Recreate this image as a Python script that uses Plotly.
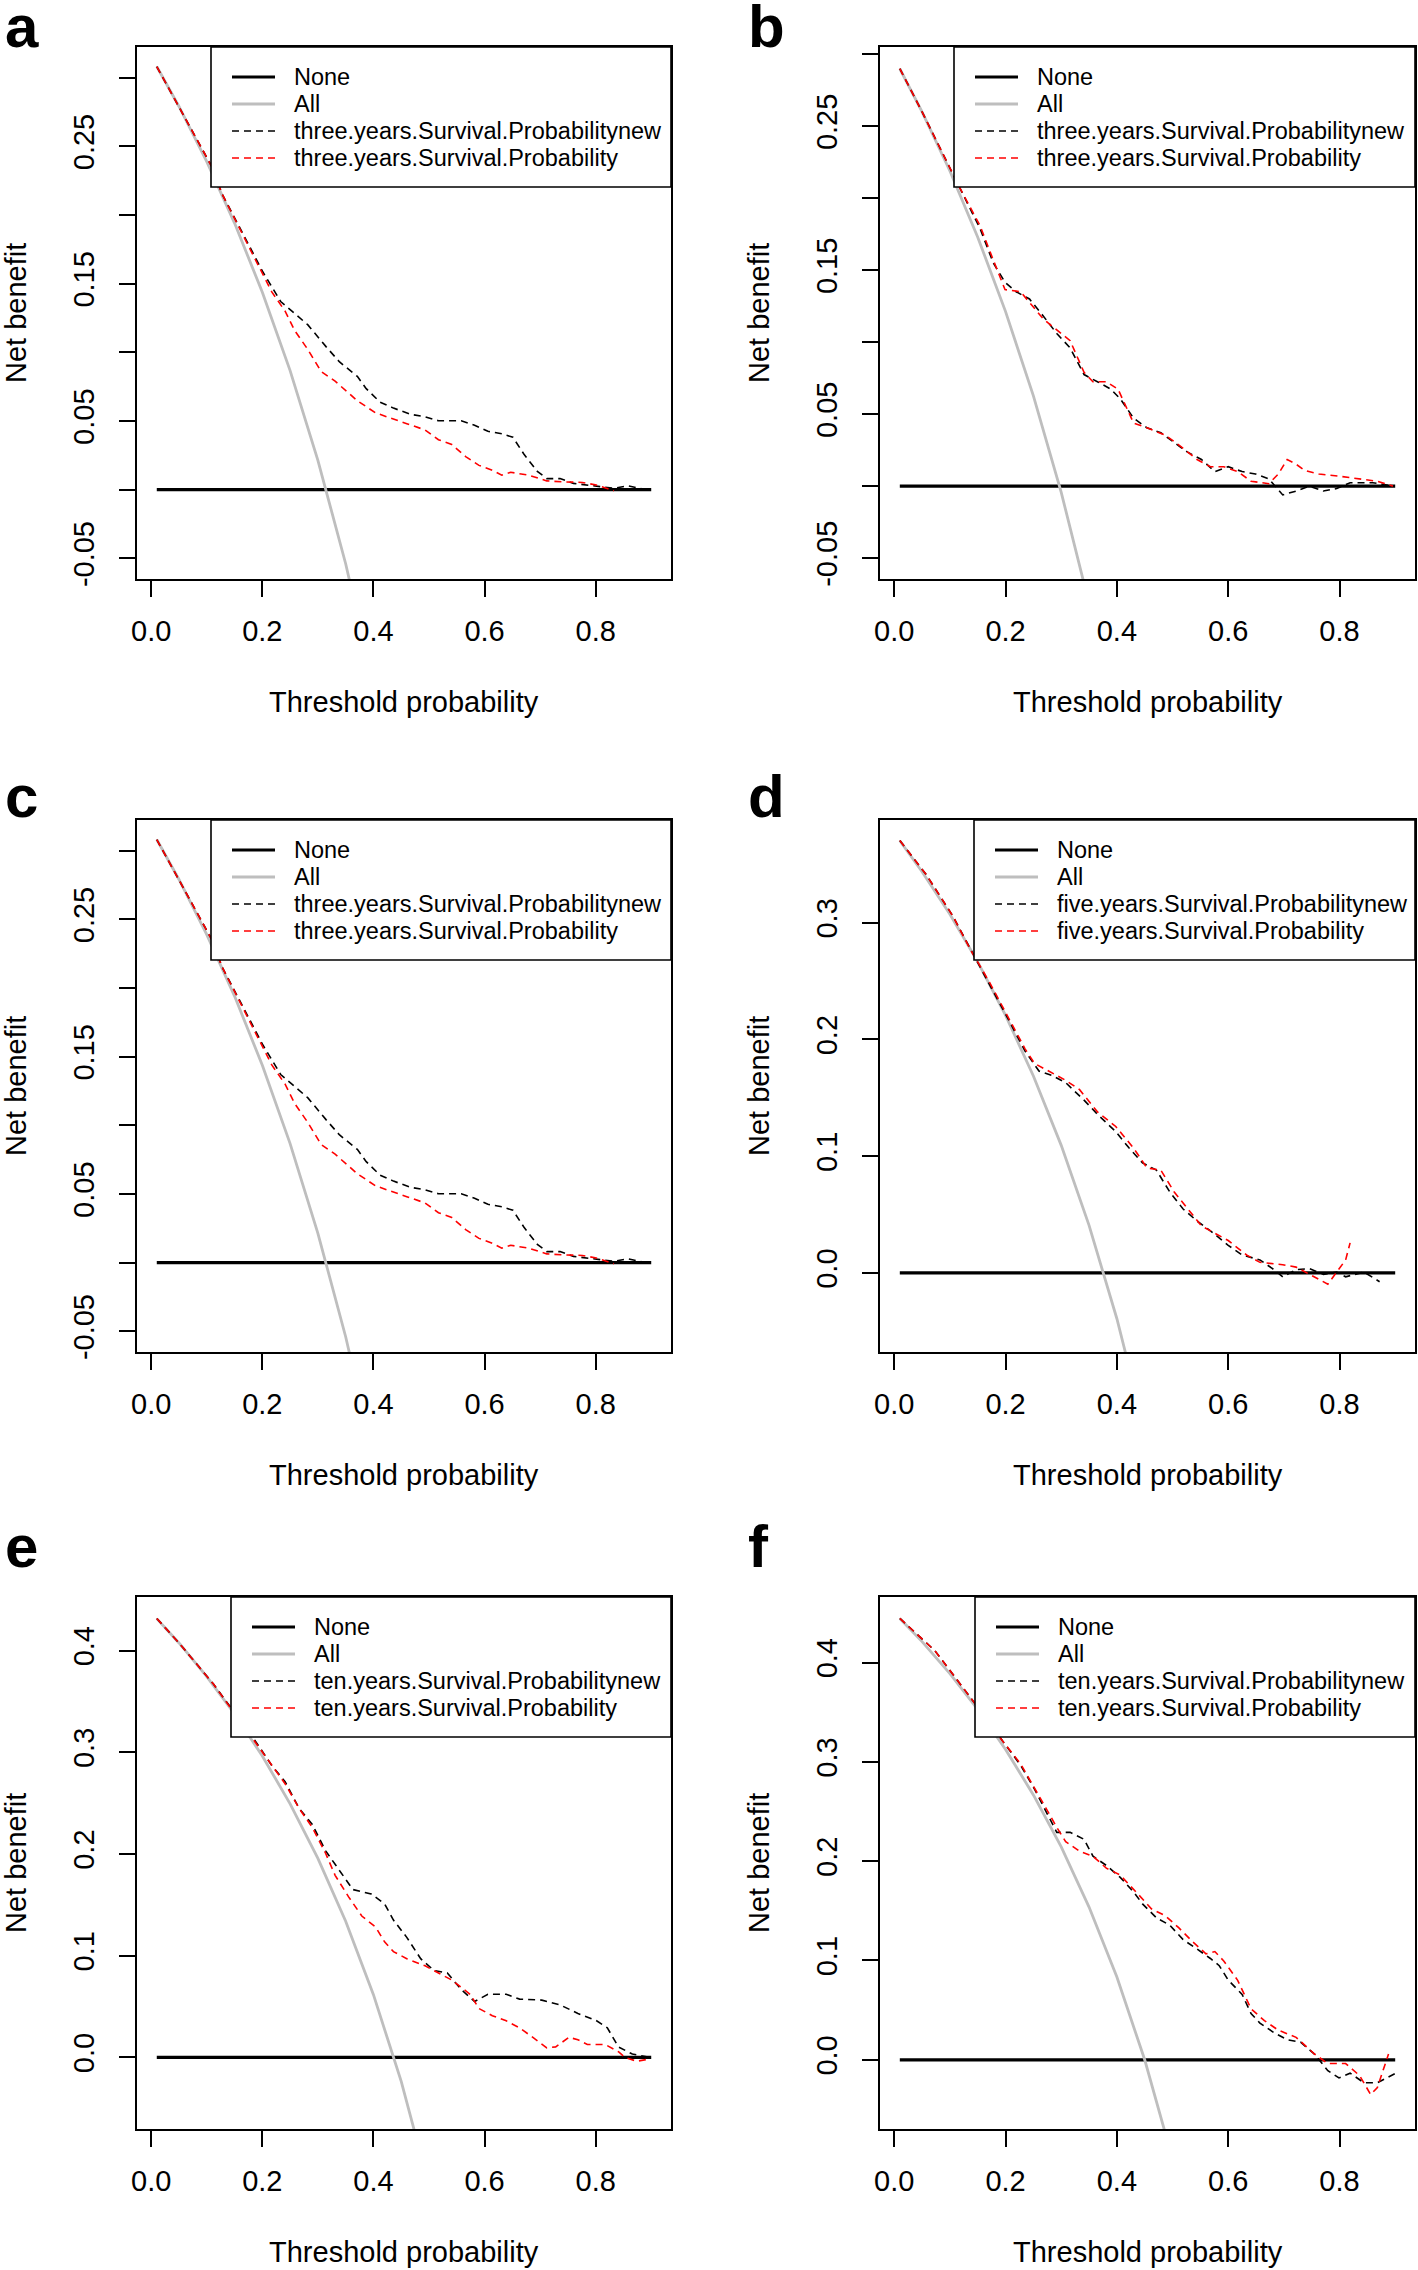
import plotly.graph_objects as go

W, H = 1418, 2270
FONT = "Liberation Sans, Arial, sans-serif"

# ---- data ---------------------------------------------------------------
# "All" strategy (treat everyone), per panel
all_x = [0.01, 0.05, 0.10, 0.15, 0.20, 0.25, 0.30, 0.35, 0.40, 0.45, 0.50]
all_a = [0.3081, 0.2790, 0.2389, 0.1941, 0.1438, 0.0867, 0.0214, -0.0539, -0.1417, -0.2454, -0.370]
all_b = [0.2899, 0.2600, 0.2189, 0.1729, 0.1212, 0.0627, -0.0043, -0.0815, -0.1720, -0.2780, -0.406]
all_d = [0.3702, 0.3437, 0.3072, 0.2665, 0.2206, 0.1687, 0.1093, 0.0408, -0.0392, -0.1336, -0.247]
all_e = [0.4313, 0.4074, 0.3744, 0.3376, 0.2963, 0.2493, 0.1957, 0.1338, 0.0617, -0.0236, -0.126]
all_f = [0.4444, 0.4211, 0.3889, 0.3529, 0.3125, 0.2667, 0.2143, 0.1538, 0.0833, 0.0000, -0.100]

none_x = [0.01, 0.90]
none_y = [0.0, 0.0]

# panel a / c : three years
a_new_x = [0.01, 0.05, 0.108, 0.128, 0.169, 0.201, 0.233, 0.258, 0.282, 0.315, 0.339, 0.371, 0.387,
           0.412, 0.436, 0.468, 0.493, 0.517, 0.558, 0.582, 0.606, 0.631, 0.651, 0.671, 0.695, 0.712,
           0.736, 0.760, 0.801, 0.833, 0.858, 0.898]
a_new_y = [0.308, 0.279, 0.236, 0.215, 0.183, 0.1585, 0.137, 0.128, 0.120, 0.104, 0.093, 0.0825, 0.0736,
           0.0637, 0.0594, 0.0548, 0.0531, 0.0502, 0.0502, 0.047, 0.0425, 0.0407, 0.0382, 0.0258, 0.0134,
           0.0081, 0.0081, 0.0046, 0.0028, 0.001, 0.0028, -0.0007]
a_old_x = [0.01, 0.05, 0.108, 0.128, 0.152, 0.185, 0.217, 0.241, 0.258, 0.282, 0.306, 0.331, 0.347,
           0.371, 0.404, 0.428, 0.460, 0.493, 0.517, 0.541, 0.566, 0.590, 0.614, 0.631, 0.647, 0.679,
           0.712, 0.744, 0.776, 0.801, 0.833]
a_old_y = [0.308, 0.279, 0.236, 0.215, 0.196, 0.169, 0.144, 0.130, 0.116, 0.102, 0.086, 0.079, 0.0736,
           0.0648, 0.0559, 0.0524, 0.0481, 0.0435, 0.0364, 0.0329, 0.0241, 0.0177, 0.0142, 0.0106,
           0.0127, 0.0106, 0.0064, 0.0057, 0.0053, 0.0035, -0.0007]

# panel b : three years
b_new_x = [0.01, 0.05, 0.118, 0.154, 0.178, 0.199, 0.219, 0.243, 0.268, 0.292, 0.316, 0.341, 0.365,
           0.389, 0.406, 0.430, 0.454, 0.479, 0.503, 0.527, 0.552, 0.576, 0.600, 0.625, 0.649, 0.673,
           0.698, 0.722, 0.746, 0.771, 0.795, 0.819, 0.860, 0.896]
b_new_y = [0.290, 0.260, 0.207, 0.179, 0.155, 0.1416, 0.135, 0.130, 0.118, 0.106, 0.096, 0.0775, 0.0725,
           0.0674, 0.0607, 0.0472, 0.0405, 0.0371, 0.0303, 0.0236, 0.0185, 0.0101, 0.0135, 0.0101,
           0.0084, 0.0051, -0.0061, -0.0034, 0.0, -0.0034, -0.0017, 0.0024, 0.0024, 0.0]
b_old_x = [0.01, 0.05, 0.118, 0.154, 0.178, 0.199, 0.227, 0.268, 0.316, 0.341, 0.357, 0.381, 0.402,
           0.430, 0.454, 0.487, 0.511, 0.544, 0.568, 0.592, 0.617, 0.641, 0.673, 0.690, 0.706, 0.722,
           0.738, 0.763, 0.803, 0.836, 0.868, 0.896]
b_old_y = [0.290, 0.260, 0.207, 0.181, 0.157, 0.1365, 0.135, 0.116, 0.101, 0.079, 0.0725, 0.0725, 0.0674,
           0.0438, 0.0405, 0.0354, 0.0287, 0.0185, 0.0135, 0.0135, 0.0101, 0.0034, 0.0017, 0.0084,
           0.0185, 0.0152, 0.0108, 0.0084, 0.0067, 0.0051, 0.0034, 0.0]

# panel d : five years
d_new_x = [0.01, 0.057, 0.105, 0.138, 0.170, 0.203, 0.235, 0.260, 0.284, 0.308, 0.341, 0.365, 0.398,
           0.422, 0.446, 0.471, 0.495, 0.519, 0.544, 0.568, 0.600, 0.625, 0.657, 0.682, 0.698, 0.722,
           0.746, 0.771, 0.795, 0.811, 0.844, 0.872]
d_new_y = [0.3705, 0.3415, 0.306, 0.276, 0.248, 0.219, 0.190, 0.173, 0.169, 0.163, 0.148, 0.136, 0.121,
           0.107, 0.0943, 0.0881, 0.0694, 0.0548, 0.0445, 0.0361, 0.0237, 0.0154, 0.0112, 0.0029,
           -0.0033, 0.0029, 0.0037, -0.0012, 0.0008, -0.0033, 0.0008, -0.0075]
d_old_x = [0.01, 0.057, 0.105, 0.138, 0.170, 0.203, 0.235, 0.252, 0.284, 0.308, 0.333, 0.365, 0.398,
           0.430, 0.454, 0.479, 0.503, 0.527, 0.552, 0.600, 0.633, 0.657, 0.698, 0.722, 0.746, 0.779,
           0.795, 0.811, 0.819]
d_old_y = [0.3705, 0.3415, 0.306, 0.276, 0.250, 0.221, 0.192, 0.1795, 0.171, 0.165, 0.157, 0.138, 0.1255,
           0.107, 0.090, 0.088, 0.0694, 0.0548, 0.0403, 0.0278, 0.0154, 0.0091, 0.0071, 0.005, -0.0012,
           -0.0096, 0.0008, 0.0112, 0.0258]

# panel e : ten years
e_new_x = [0.01, 0.05, 0.112, 0.185, 0.217, 0.241, 0.266, 0.290, 0.314, 0.339, 0.363, 0.396, 0.420,
           0.436, 0.460, 0.485, 0.509, 0.533, 0.558, 0.582, 0.606, 0.639, 0.663, 0.703, 0.736, 0.768,
           0.801, 0.821, 0.841, 0.866, 0.898]
e_new_y = [0.4315, 0.4074, 0.367, 0.313, 0.287, 0.271, 0.245, 0.229, 0.203, 0.184, 0.165, 0.1606, 0.151,
           0.135, 0.118, 0.097, 0.0854, 0.083, 0.0667, 0.055, 0.062, 0.062, 0.0573, 0.0563, 0.0516,
           0.0432, 0.0362, 0.0291, 0.0103, 0.0033, 0.0]
e_old_x = [0.01, 0.05, 0.112, 0.185, 0.217, 0.241, 0.266, 0.290, 0.314, 0.331, 0.355, 0.379, 0.404,
           0.420, 0.436, 0.460, 0.493, 0.517, 0.541, 0.558, 0.574, 0.590, 0.614, 0.639, 0.663, 0.687,
           0.712, 0.728, 0.752, 0.768, 0.785, 0.817, 0.841, 0.853, 0.874, 0.898]
e_old_y = [0.4315, 0.4074, 0.367, 0.311, 0.287, 0.269, 0.245, 0.226, 0.2005, 0.179, 0.158, 0.139, 0.128,
           0.1136, 0.104, 0.097, 0.090, 0.083, 0.076, 0.069, 0.062, 0.048, 0.041, 0.036, 0.029, 0.0197,
           0.0094, 0.0103, 0.0197, 0.0174, 0.0127, 0.0127, 0.0056, 0.0, -0.0038, -0.0014]

# panel f : ten years
f_new_x = [0.01, 0.073, 0.138, 0.195, 0.227, 0.252, 0.272, 0.292, 0.316, 0.341, 0.357, 0.381, 0.406,
           0.430, 0.446, 0.471, 0.495, 0.519, 0.544, 0.568, 0.584, 0.600, 0.625, 0.641, 0.657, 0.682,
           0.706, 0.730, 0.755, 0.779, 0.799, 0.819, 0.844, 0.868, 0.901]
f_new_y = [0.4445, 0.412, 0.364, 0.3207, 0.2966, 0.2726, 0.251, 0.229, 0.229, 0.222, 0.205, 0.1957,
           0.1837, 0.169, 0.157, 0.143, 0.1356, 0.121, 0.1115, 0.102, 0.0947, 0.0803, 0.0659, 0.0466,
           0.037, 0.0274, 0.0202, 0.0178, 0.0058, -0.011, -0.0183, -0.0135, -0.0231, -0.0231, -0.0135]
f_old_x = [0.01, 0.073, 0.138, 0.195, 0.227, 0.252, 0.272, 0.292, 0.308, 0.333, 0.357, 0.381, 0.406,
           0.438, 0.462, 0.487, 0.511, 0.536, 0.560, 0.576, 0.592, 0.617, 0.641, 0.665, 0.690, 0.722,
           0.755, 0.779, 0.811, 0.836, 0.856, 0.868, 0.888]
f_old_y = [0.4445, 0.412, 0.364, 0.3207, 0.298, 0.274, 0.254, 0.234, 0.2197, 0.210, 0.205, 0.193, 0.186,
           0.1668, 0.152, 0.145, 0.133, 0.119, 0.1067, 0.109, 0.0995, 0.080, 0.0514, 0.0394, 0.0298,
           0.0226, 0.0058, -0.0038, -0.0038, -0.0159, -0.035, -0.0279, 0.0058]

x_ticks = [0.0, 0.2, 0.4, 0.6, 0.8]
x_ticktext = ["0.0", "0.2", "0.4", "0.6", "0.8"]
y_ticks_small = [-0.05, 0.0, 0.05, 0.10, 0.15, 0.20, 0.25, 0.30]
y_ticktext_small = ["-0.05", "", "0.05", "", "0.15", "", "0.25", ""]
y_ticks_d = [0.0, 0.1, 0.2, 0.3]
y_ticktext_d = ["0.0", "0.1", "0.2", "0.3"]
y_ticks_big = [0.0, 0.1, 0.2, 0.3, 0.4]
y_ticktext_big = ["0.0", "0.1", "0.2", "0.3", "0.4"]

# ---- panel layout (pixels) -------------------------------------------------
cols = [(137, 671), (880, 1415)]
rows = [(47, 579), (820, 1352), (1597, 2129)]

panels = [
    dict(letter="a", col=0, row=0, letter_xy=(3, 47), yr=[-0.065, 0.3223],
         yt=(y_ticks_small, y_ticktext_small), all_y=all_a,
         new=(a_new_x, a_new_y), old=(a_old_x, a_old_y), leg_w=460,
         names=["three.years.Survival.Probabilitynew", "three.years.Survival.Probability"]),
    dict(letter="b", col=1, row=0, letter_xy=(746, 47), yr=[-0.0645, 0.305],
         yt=(y_ticks_small, y_ticktext_small), all_y=all_b,
         new=(b_new_x, b_new_y), old=(b_old_x, b_old_y), leg_w=461,
         names=["three.years.Survival.Probabilitynew", "three.years.Survival.Probability"]),
    dict(letter="c", col=0, row=1, letter_xy=(3, 817), yr=[-0.065, 0.3223],
         yt=(y_ticks_small, y_ticktext_small), all_y=all_a,
         new=(a_new_x, a_new_y), old=(a_old_x, a_old_y), leg_w=460,
         names=["three.years.Survival.Probabilitynew", "three.years.Survival.Probability"]),
    dict(letter="d", col=1, row=1, letter_xy=(746, 817), yr=[-0.0677, 0.388],
         yt=(y_ticks_d, y_ticktext_d), all_y=all_d,
         new=(d_new_x, d_new_y), old=(d_old_x, d_old_y), leg_w=441,
         names=["five.years.Survival.Probabilitynew", "five.years.Survival.Probability"]),
    dict(letter="e", col=0, row=2, letter_xy=(3, 1567), yr=[-0.0704, 0.4526],
         yt=(y_ticks_big, y_ticktext_big), all_y=all_e,
         new=(e_new_x, e_new_y), old=(e_old_x, e_old_y), leg_w=440,
         names=["ten.years.Survival.Probabilitynew", "ten.years.Survival.Probability"]),
    dict(letter="f", col=1, row=2, letter_xy=(746, 1567), yr=[-0.0697, 0.466],
         yt=(y_ticks_big, y_ticktext_big), all_y=all_f,
         new=(f_new_x, f_new_y), old=(f_old_x, f_old_y), leg_w=440,
         names=["ten.years.Survival.Probabilitynew", "ten.years.Survival.Probability"]),
]


def px(x):
    return x / W


def py(y):
    return 1 - y / H


fig = go.Figure()
layout = dict(width=W, height=H, margin=dict(l=0, r=0, t=0, b=0),
              paper_bgcolor="white", plot_bgcolor="white", showlegend=False,
              font=dict(family=FONT, color="black"))
shapes, annotations = [], []

GREY = "#bebebe"
DASH = "7px,5px"

for i, p in enumerate(panels, start=1):
    L, R = cols[p["col"]]
    T, B = rows[p["row"]]
    xa, ya = ("x%d" % i if i > 1 else "x"), ("y%d" % i if i > 1 else "y")

    fig.add_trace(go.Scatter(x=none_x, y=none_y, mode="lines", name="None",
                             line=dict(color="black", width=3.2), xaxis=xa, yaxis=ya))
    fig.add_trace(go.Scatter(x=all_x, y=p["all_y"], mode="lines", name="All",
                             line=dict(color=GREY, width=2.8), xaxis=xa, yaxis=ya))
    fig.add_trace(go.Scatter(x=p["new"][0], y=p["new"][1], mode="lines", name=p["names"][0],
                             line=dict(color="black", width=1.6, dash=DASH), xaxis=xa, yaxis=ya))
    fig.add_trace(go.Scatter(x=p["old"][0], y=p["old"][1], mode="lines", name=p["names"][1],
                             line=dict(color="red", width=1.6, dash=DASH), xaxis=xa, yaxis=ya))

    common = dict(showgrid=False, zeroline=False, showline=True, mirror=True,
                  linecolor="black", linewidth=1.6, ticks="outside", ticklen=16,
                  tickwidth=1.6, tickcolor="black", automargin=False,
                  tickfont=dict(family=FONT, size=29, color="black"))
    layout["xaxis%d" % i if i > 1 else "xaxis"] = dict(
        common, domain=[px(L), px(R)], anchor=ya, range=[-0.0256, 0.9356],
        tickvals=x_ticks, ticktext=x_ticktext, ticklabelstandoff=9)
    layout["yaxis%d" % i if i > 1 else "yaxis"] = dict(
        common, domain=[py(B), py(T)], anchor=xa, range=p["yr"],
        tickvals=p["yt"][0], ticktext=p["yt"][1], tickangle=-90, ticklabelstandoff=14)

    # axis titles
    annotations.append(dict(x=px((L + R) / 2), y=py(B + 123), xref="paper", yref="paper",
                            text="Threshold probability", showarrow=False,
                            xanchor="center", yanchor="middle", font=dict(size=29)))
    annotations.append(dict(x=px(L - 121), y=py((T + B) / 2), xref="paper", yref="paper",
                            text="Net benefit", showarrow=False, textangle=-90,
                            xanchor="center", yanchor="middle", font=dict(size=29)))
    # panel letter
    lx, lb = p["letter_xy"]
    annotations.append(dict(x=px(lx), y=py(lb - 21), xref="paper", yref="paper",
                            text="<b>%s</b>" % p["letter"], showarrow=False,
                            xanchor="left", yanchor="middle", font=dict(size=60)))

    # legend box in the top-right corner (R style)
    lw, lh = p["leg_w"], 140
    x0 = R - lw
    shapes.append(dict(type="rect", xref="paper", yref="paper", x0=px(x0), x1=px(R),
                       y0=py(T), y1=py(T + lh), line=dict(color="black", width=1.6),
                       fillcolor="white", layer="above"))
    entries = [("None", "black", 3.2, "solid"), ("All", GREY, 2.8, "solid"),
               (p["names"][0], "black", 1.6, DASH), (p["names"][1], "red", 1.6, DASH)]
    for k, (txt, col, w, dash) in enumerate(entries):
        yc = T + 30 + 27 * k
        shapes.append(dict(type="line", xref="paper", yref="paper", x0=px(x0 + 21),
                           x1=px(x0 + 64), y0=py(yc), y1=py(yc),
                           line=dict(color=col, width=w, dash=dash), layer="above"))
        annotations.append(dict(x=px(x0 + 81), y=py(yc), xref="paper", yref="paper",
                                text=txt, showarrow=False, xanchor="left", yanchor="middle",
                                font=dict(size=23.5)))

layout["shapes"] = shapes
layout["annotations"] = annotations
fig.update_layout(**layout)

# the page body has an 8px default margin; drop it so the figure fills the window
fig.write_html("out.html", config={"displayModeBar": False},
               post_script="document.body.style.margin = '0px';")
